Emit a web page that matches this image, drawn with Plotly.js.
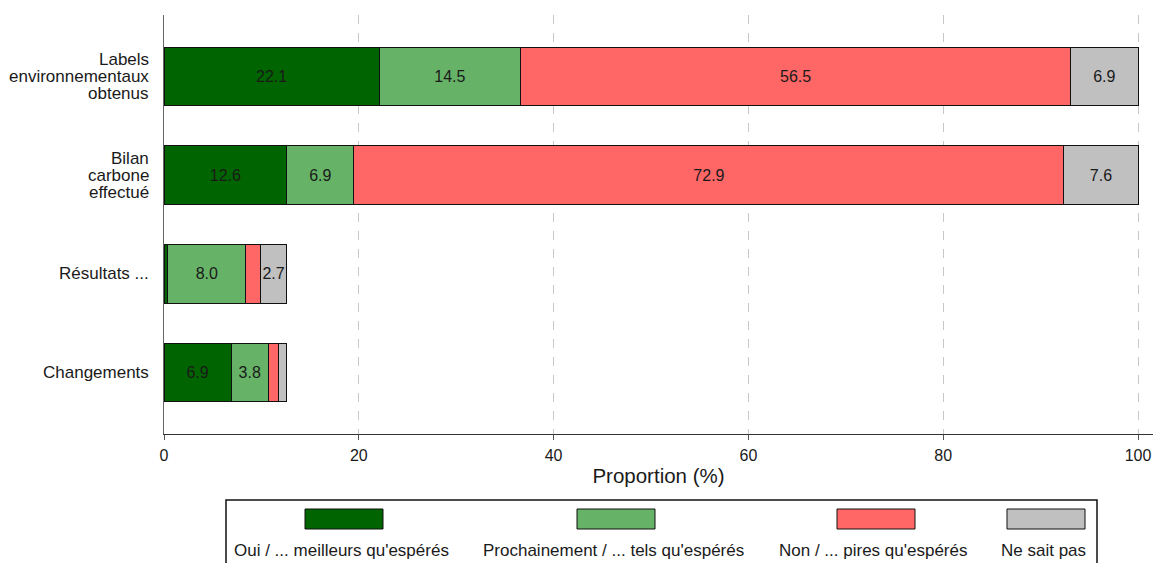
<!DOCTYPE html>
<html>
<head>
<meta charset="utf-8">
<script src="https://cdn.plot.ly/plotly-3.0.1.min.js"></script>
<style>html,body{margin:0;padding:0;background:#fff;}#chart{width:1154px;height:563px;}</style>
</head>
<body>
<div id="chart"></div>
<script>
// Categories bottom-to-top
const categories = ["Changements", "Résultats ...", "Bilan<br>carbone<br>effectué", "Labels<br>environnementaux<br>obtenus"];
const seriesNames = ["Oui / ... meilleurs qu'espérés", "Prochainement / ... tels qu'espérés", "Non / ... pires qu'espérés", "Ne sait pas"];
const oui = [6.9, 0.4, 12.6, 22.1];
const prochainement = [3.8, 8.0, 6.9, 14.5];
const non = [1.1, 1.5, 72.9, 56.5];
const nsp = [0.8, 2.7, 7.6, 6.9];
const xTicks = [0, 20, 40, 60, 80, 100];

const colors = ["#006400", "#66b266", "#ff6666", "#c0c0c0"];
const seriesValues = [oui, prochainement, non, nsp];
const FONT = "Liberation Sans, Arial, sans-serif";

const traces = seriesValues.map((vals, i) => ({
  type: "bar",
  orientation: "h",
  y: categories,
  x: vals,
  name: seriesNames[i],
  marker: {color: colors[i], line: {color: "#111", width: 1}},
  width: 0.59,
  text: vals.map(v => v >= 2 ? v.toFixed(1) : ""),
  textposition: "inside",
  insidetextanchor: "middle",
  textangle: 0,
  constraintext: "none",
  insidetextfont: {color: "#1a1a1a", size: 16, family: FONT},
  hoverinfo: "x+y",
  showlegend: false,
  cliponaxis: false
}));

const L = 164, R = 1153, T = 15, B = 434;
const px = p => (p - L) / (R - L);
const py = p => (B - p) / (B - T);
const shapes = [];
const annotations = [];

// Category labels (tight line spacing), positioned on the y category axis
categories.forEach(cat => {
  const lines = cat.split("<br>");
  const n = lines.length;
  lines.forEach((ln, k) => {
    annotations.push({xref: "paper", yref: "y", x: 0, y: cat, text: ln, showarrow: false,
      xanchor: "right", yanchor: "middle", xshift: -13, yshift: ((n - 1) / 2 - k) * 17,
      font: {size: 17, color: "#1a1a1a", family: FONT}});
  });
});

// Custom legend (symbols above text), built from series names/colors
const colCenters = [344, 616, 876, 1046];
shapes.push({type: "rect", xref: "paper", yref: "paper", x0: px(226), x1: px(1097), y0: py(500), y1: py(575),
  line: {color: "#111", width: 1.5}, fillcolor: "rgba(0,0,0,0)"});
seriesNames.forEach((n, i) => {
  const c = colCenters[i];
  shapes.push({type: "rect", xref: "paper", yref: "paper", x0: px(c - 39), x1: px(c + 39), y0: py(529), y1: py(509),
    line: {color: "#111", width: 1}, fillcolor: colors[i]});
  annotations.push({xref: "paper", yref: "paper", x: px(c - 3), y: py(550), text: n, showarrow: false,
    xanchor: "center", yanchor: "middle", font: {size: 17, color: "#1a1a1a", family: FONT}});
});

const layout = {
  width: 1154, height: 563,
  margin: {l: L, r: 1154 - R, t: T, b: 563 - B},
  paper_bgcolor: "#fff", plot_bgcolor: "#fff",
  barmode: "stack",
  showlegend: false,
  font: {family: FONT, color: "#1a1a1a", size: 16},
  xaxis: {
    range: [0, (R - L) / 9.74],
    tickvals: xTicks,
    ticktext: xTicks.map(String),
    ticks: "outside", ticklen: 5, tickcolor: "#555",
    ticklabelstandoff: 2,
    showline: true, linecolor: "#333", linewidth: 1,
    showgrid: true, gridcolor: "#c8c8c8", griddash: "dash", gridwidth: 1,
    zeroline: false,
    tickfont: {size: 16},
    title: {text: "Proportion (%)", font: {size: 20.5}, standoff: 5}
  },
  yaxis: {
    type: "category",
    categoryorder: "array", categoryarray: categories,
    range: [-0.62, 3.62],
    showline: true, linecolor: "#666", linewidth: 1,
    ticks: "", showgrid: false, zeroline: false,
    showticklabels: false
  },
  shapes: shapes,
  annotations: annotations
};

Plotly.newPlot("chart", traces, layout, {displayModeBar: false, staticPlot: true});
</script>
</body>
</html>
